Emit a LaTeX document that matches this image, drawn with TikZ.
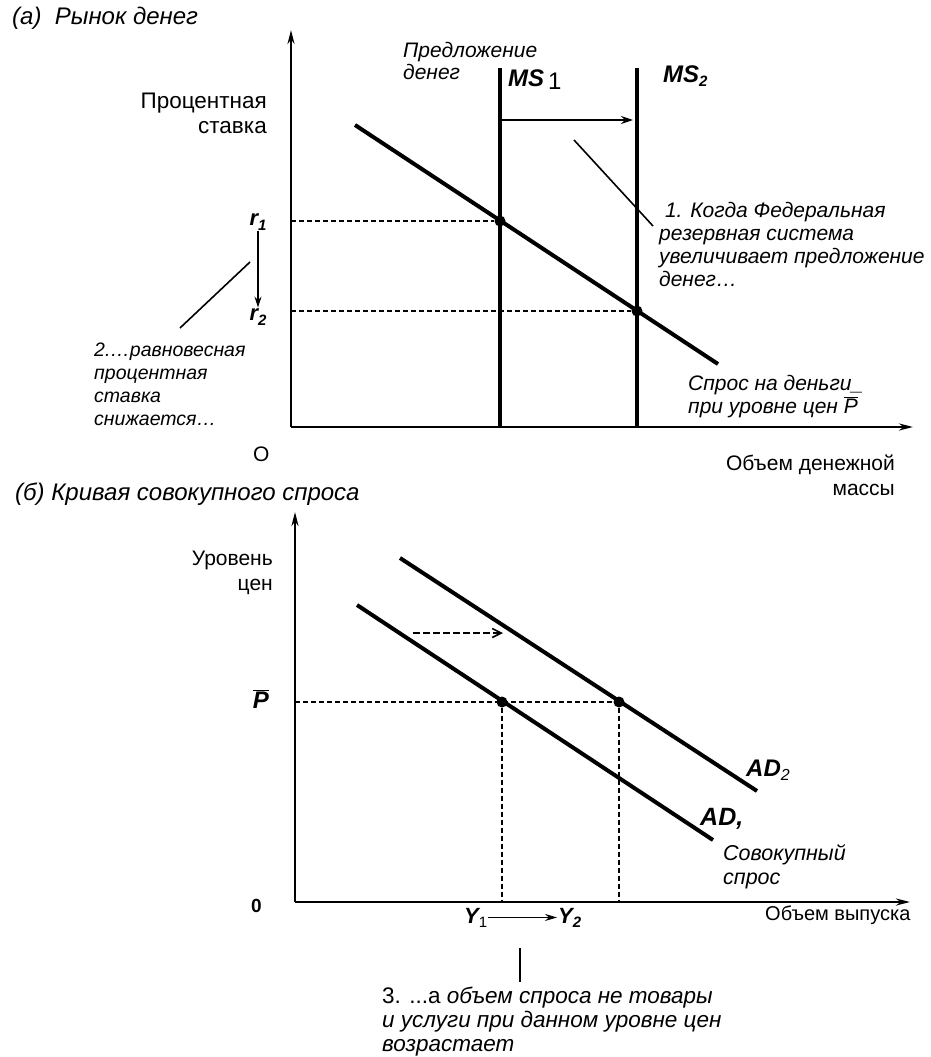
\documentclass[tikz,border=0pt]{standalone}
\usepackage{fontspec}
\setmainfont{Liberation Sans}
\usetikzlibrary{arrows.meta}
\begin{document}
\begin{tikzpicture}[x=1pt,y=-1pt,
  axis/.style={line width=2.5pt,-{Stealth[length=14pt,width=7pt]}},
  curve/.style={line width=4pt},
  guide/.style={line width=1.5pt,dash pattern=on 5pt off 3pt},
  thinarrow/.style={line width=1.8pt,-{Stealth[length=12pt,width=8pt]}},
  leader/.style={line width=1.6pt},
  dot/.style={circle,fill,inner sep=0pt,minimum size=11pt},
  lab/.style={font=\fontsize{21}{25}\selectfont,inner sep=0pt},
  ttl/.style={font=\itshape\fontsize{24}{28}\selectfont,inner sep=0pt},
  itl/.style={font=\itshape\fontsize{21}{23}\selectfont,inner sep=0pt,align=left},
  sym/.style={font=\bfseries\itshape\fontsize{24}{28}\selectfont,inner sep=1pt}
]
\useasboundingbox (0,0) rectangle (931,1057);

% ---------- panel (a) ----------
\node[ttl,anchor=base west] (ttlA) at (12,25) {(а)\ \ Рынок денег};
\coordinate (OA) at (291,427);
\coordinate (YA) at (291,30);
\coordinate (XA) at (913,427);
\draw[axis] (OA) -- (YA);
\draw[axis] (OA) -- (XA);
\node[lab,anchor=base east,align=right,font=\fontsize{22.5}{25}\selectfont] (ylabA) at (267,133) {Процентная\\ставка};
\node[lab,anchor=base east,align=right] (xlabA) at (895,495) {Объем денежной\\массы};
\node[lab,anchor=base west] (zeroA) at (253,461) {О};

\node[itl,anchor=base west] (msname) at (403,80) {Предложение\\денег};
\coordinate (ms1t) at (500,68); \coordinate (ms1b) at (500,427);
\coordinate (ms2t) at (637,68); \coordinate (ms2b) at (637,427);
\draw[curve] (ms1t) -- (ms1b);
\draw[curve] (ms2t) -- (ms2b);
\node[sym,anchor=base west] (ms1) at (507,86) {MS\,\raisebox{-0.3ex}{\mdseries\upshape 1}};
\node[sym,anchor=base west] (ms2) at (662,82) {MS\raisebox{-0.35ex}{\fontsize{15}{15}\selectfont 2}};
\coordinate (sh1) at (500,120); \coordinate (sh2) at (633,120);
\draw[thinarrow] (sh1) -- (sh2);

\coordinate (mdA) at (355,125); \coordinate (mdB) at (718,364);
\draw[curve] (mdA) -- (mdB);
\node[dot] (e1) at (500,221) {};
\node[dot] (e2) at (637,311) {};
\coordinate (r1a) at (291,221); \coordinate (r2a) at (291,311);
\draw[guide] (r1a) -- (e1);
\draw[guide] (r2a) -- (e2);

\node[sym,font=\bfseries\itshape\fontsize{22}{26}\selectfont] (r1) at (258,222) {r\raisebox{-0.4ex}{\fontsize{15}{15}\selectfont 1}};
\node[sym,font=\bfseries\itshape\fontsize{22}{26}\selectfont] (r2) at (258,317) {r\raisebox{-0.4ex}{\fontsize{15}{15}\selectfont 2}};
\draw[line width=1.5pt,-{Stealth[length=11pt,width=7pt]}] (r1) -- (r2);

\coordinate (l1a) at (574,140); \coordinate (l1b) at (653,226);
\draw[leader] (l1a) -- (l1b);
\node[itl,anchor=base west] (note1) at (659,286) {\ 1. Когда Федеральная\\резервная система\\увеличивает предложение\\денег…};

\coordinate (l2a) at (180,328); \coordinate (l2b) at (250,262);
\draw[leader] (l2a) -- (l2b);
\node[itl,anchor=base west,font=\itshape\fontsize{19.5}{22.7}\selectfont] (note2) at (94,425) {2.…равновесная\\процентная\\ставка\\снижается…};

\node[itl,anchor=base west] (mdlab) at (688,413) {Спрос на деньги\_\\при уровне цен $\overline{\mbox{\itshape P}}$};

% ---------- panel (b) ----------
\node[ttl,anchor=base west] (ttlB) at (15,500) {(б) Кривая совокупного спроса};
\coordinate (OB) at (295,902);
\coordinate (YB) at (295,512);
\coordinate (XB) at (910,902);
\draw[axis] (OB) -- (YB);
\draw[axis] (OB) -- (XB);
\node[lab,anchor=base east,align=right] (ylabB) at (273,590) {Уровень\\цен};
\node[lab,anchor=base west,font=\fontsize{20}{24}\selectfont] (xlabB) at (765,920) {Объем выпуска};
\node[lab,anchor=base west,font=\bfseries\fontsize{19}{22}\selectfont] (zeroB) at (251,912) {0};

\coordinate (ad1a) at (357,605); \coordinate (ad1b) at (713,840);
\coordinate (ad2a) at (400,558); \coordinate (ad2b) at (757,791);
\draw[curve] (ad1a) -- (ad1b);
\draw[curve] (ad2a) -- (ad2b);
\node[dot] (f1) at (502,702) {};
\node[dot] (f2) at (619,702) {};
\coordinate (pa) at (295,702);
\coordinate (y1a) at (502,902); \coordinate (y2a) at (619,902);
\draw[guide] (pa) -- (f2);
\draw[guide] (f1) -- (y1a);
\draw[guide,line width=1.1pt] (f2) -- (y2a);
\coordinate (adsh1) at (413,633); \coordinate (adsh2) at (503,633);
\draw[line width=1.6pt,dash pattern=on 7pt off 3pt,-{Straight Barb[length=9pt,width=9pt]}] (adsh1) -- (adsh2);

\node[sym] (pbar) at (261,699) {$\overline{\mbox{\bfseries\itshape P}}$};
\node[sym,anchor=base west,font=\itshape\fontsize{24}{28}\selectfont] (ad2lab) at (745,776) {\textbf{AD}\raisebox{-0.35ex}{\fontsize{16}{16}\selectfont 2}};
\node[sym,anchor=base west,font=\bfseries\itshape\fontsize{25}{28}\selectfont] (ad1lab) at (699,825) {AD,};
\node[itl,anchor=base west,font=\itshape\fontsize{21.5}{24}\selectfont] (adlab) at (723,884) {Совокупный\\спрос};

\node[sym,anchor=base west,font=\bfseries\itshape\fontsize{22}{26}\selectfont] (Y1) at (463,923) {Y\raisebox{-0.35ex}{\mdseries\upshape\fontsize{15}{15}\selectfont 1}};
\node[sym,anchor=base west,font=\bfseries\itshape\fontsize{22}{26}\selectfont] (Y2) at (557,923) {Y\raisebox{-0.35ex}{\fontsize{15}{15}\selectfont 2}};
\draw[line width=1.5pt,-{Stealth[length=12pt,width=7pt]}] (Y1) -- (Y2);
\coordinate (l3a) at (520,948); \coordinate (l3b) at (520,982);
\draw[line width=2pt] (l3a) -- (l3b);
\node[itl,anchor=base west,font=\itshape\fontsize{22.5}{24}\selectfont] (note3) at (382,1051) {{\upshape 3. ...а} объем спроса не товары\\и услуги при данном уровне цен\\возрастает};
\end{tikzpicture}
\end{document}
